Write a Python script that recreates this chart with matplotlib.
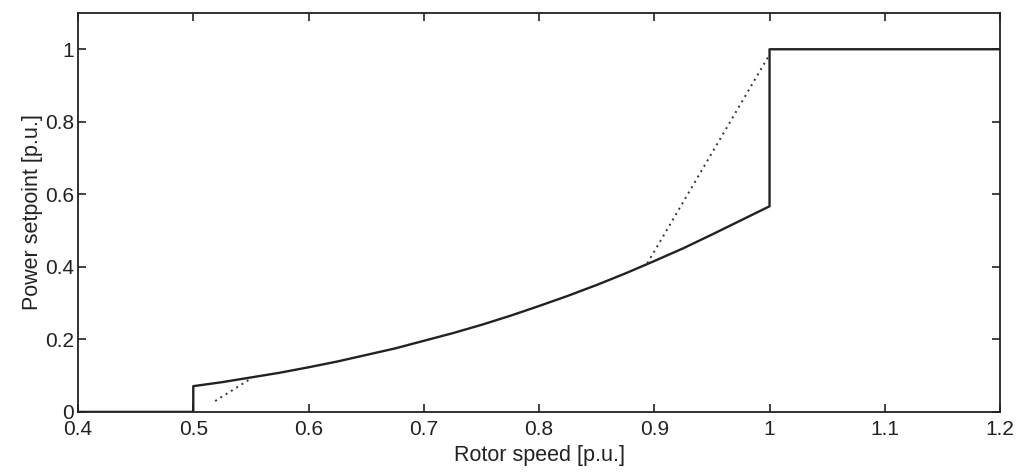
import matplotlib
matplotlib.use('Agg')
from matplotlib import pyplot as plt

plt.rcParams['font.family'] = ['Liberation Sans', 'DejaVu Sans']

# solid setpoint curve
speed = [0.4, 0.5, 0.5, 0.525, 0.55, 0.575, 0.6, 0.625, 0.65, 0.675, 0.7, 0.725, 0.75,
         0.775, 0.8, 0.825, 0.85, 0.875, 0.9, 0.925, 0.95, 0.975, 1.0, 1.0, 1.2]
power = [0.0, 0.0, 0.071, 0.082, 0.095, 0.108, 0.123, 0.139, 0.157, 0.175, 0.196, 0.217, 0.240,
         0.265, 0.292, 0.320, 0.350, 0.382, 0.416, 0.451, 0.489, 0.528, 0.567, 1.0, 1.0]

# dotted segments
dot_low_x = [0.519, 0.551]
dot_low_y = [0.030, 0.094]
dot_high_x = [0.894, 0.999]
dot_high_y = [0.41, 0.98]

xticks = [0.4, 0.5, 0.6, 0.7, 0.8, 0.9, 1.0, 1.1, 1.2]
xticklabels = ['0.4', '0.5', '0.6', '0.7', '0.8', '0.9', '1', '1.1', '1.2']
yticks = [0, 0.2, 0.4, 0.6, 0.8, 1.0]
yticklabels = ['0', '0.2', '0.4', '0.6', '0.8', '1']

fig = plt.figure(figsize=(10.16, 4.74), dpi=100)
ax = fig.add_axes([0.0768, 0.131, 0.9075, 0.8416])

ax.plot(speed, power, color='#222222', lw=1.7)
ax.plot(dot_low_x, dot_low_y, color='#333333', lw=1.4, ls=(0, (1, 2.2)))
ax.plot(dot_high_x, dot_high_y, color='#333333', lw=1.4, ls=(0, (1, 2.2)))

ax.set_xlim(0.4, 1.2)
ax.set_ylim(0, 1.1)
ax.set_xticks(xticks)
ax.set_xticklabels(xticklabels)
ax.set_yticks(yticks)
ax.set_yticklabels(yticklabels)
ax.tick_params(direction='in', length=6, width=1.2, labelsize=15, colors='#222222',
               top=True, right=True, pad=3)
ax.tick_params(axis='x', pad=6)
for s in ax.spines.values():
    s.set_linewidth(1.3)
    s.set_color('#222222')

ax.set_xlabel('Rotor speed [p.u.]', fontsize=15.5, color='#222222', labelpad=4)
ax.set_ylabel('Power setpoint [p.u.]', fontsize=15.5, color='#222222', labelpad=1)

fig.savefig('out.png', dpi=100)
